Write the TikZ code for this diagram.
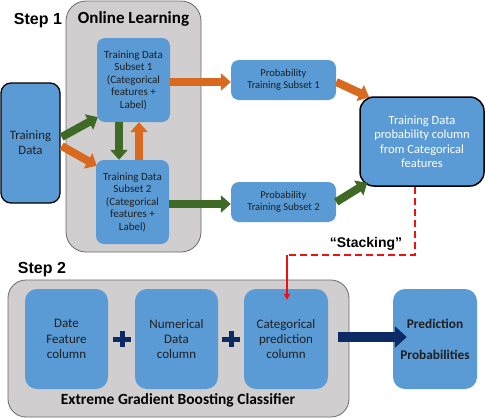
\documentclass[tikz,border=0pt]{standalone}
\usepackage{fontspec}
\setmainfont{Carlito}
\newfontfamily\arialfont{Liberation Sans}
\usepackage{xcolor}
\usepackage{tikz}
\usetikzlibrary{arrows.meta}
\definecolor{BoxBlue}{HTML}{5B9BD5}
\definecolor{PanelGrey}{HTML}{D0CECE}
\definecolor{PanelEdge}{HTML}{6A6A6A}
\definecolor{ArrOrange}{HTML}{D9691F}
\definecolor{ArrGreen}{HTML}{3F6A26}
\definecolor{ArrNavy}{HTML}{0C2A64}
\definecolor{StackRed}{HTML}{F01010}

\begin{document}
\begin{tikzpicture}[
x=1pt, y=-1pt,
BlueBox/.style={fill=BoxBlue,rounded corners=8pt,inner sep=0pt,align=center,text=black!88},
Panel/.style={fill=PanelGrey,draw=PanelEdge,line width=0.8pt,rounded corners=20pt,inner sep=0pt},
OrangeArrow/.style={draw=ArrOrange,line width=8pt,-{Triangle[length=10pt,width=17pt]}},
GreenArrow/.style={draw=ArrGreen,line width=8pt,-{Triangle[length=10pt,width=17pt]}},
NavyArrow/.style={draw=ArrNavy,line width=10pt,-{Triangle[length=12pt,width=21pt]}},
StepLabel/.style={font=\arialfont\bfseries\fontsize{16}{18}\selectfont},
every node/.style={scale=1}
]
\useasboundingbox (0,0) rectangle (485,418);

% Step 1
\node[Panel,minimum width=135pt,minimum height=251pt] (OL) at (133.5,126.5) {};
\node[font=\bfseries\fontsize{17}{19}\selectfont] (OLtitle) at (133.5,19) {Online Learning};
\node[StepLabel] (Step1) at (38,21) {Step 1};

\node[BlueBox,draw=black,line width=1.3pt,rounded corners=10pt,minimum width=59pt,minimum height=120pt,
  font=\fontsize{12.8}{15}\selectfont] (TD) at (30.5,143) {Training\\Data};
\node[BlueBox,minimum width=73pt,minimum height=84pt,font=\fontsize{11}{12.5}\selectfont]
  (Sub1) at (133.5,80) {Training Data\\Subset 1\\(Categorical\\features +\\Label)};
\node[BlueBox,minimum width=73pt,minimum height=84pt,font=\fontsize{11}{12.5}\selectfont]
  (Sub2) at (132.5,202) {Training Data\\Subset 2\\(Categorical\\features +\\Label)};
\node[BlueBox,minimum width=105pt,minimum height=40pt,font=\fontsize{10.5}{12.5}\selectfont]
  (Prob1) at (283.5,80) {Probability\\Training Subset 1};
\node[BlueBox,minimum width=105pt,minimum height=40pt,font=\fontsize{10.5}{12.5}\selectfont]
  (Prob2) at (283.5,202) {Probability\\Training Subset 2};
\node[BlueBox,draw=black,line width=1.5pt,rounded corners=14pt,minimum width=124pt,minimum height=89pt,
  text=white,font=\fontsize{12.5}{14.5}\selectfont]
  (Big) at (422,141.5) {Training Data\\probability column\\from Categorical\\features};

\draw[GreenArrow] ([shift={(1,-6)}]TD.east) -- ([shift={(1,-5)}]Sub1.south west);
\draw[OrangeArrow] ([shift={(1,3)}]TD.east) -- ([shift={(1,6)}]Sub2.north west);
\draw[GreenArrow] ([shift={(-14.5,0)}]Sub1.south) -- ([shift={(-13.5,0)}]Sub2.north);
\draw[OrangeArrow] ([shift={(6.5,0)}]Sub2.north) -- ([shift={(5.5,0)}]Sub1.south);
\draw[OrangeArrow] ([shift={(0,2)}]Sub1.east) -- ([shift={(0,2)}]Prob1.west);
\draw[GreenArrow] ([shift={(0,2)}]Sub2.east) -- ([shift={(0,2)}]Prob2.west);
\draw[OrangeArrow] ([shift={(0,2)}]Prob1.east) -- ([shift={(10,1)}]Big.north west);
\draw[GreenArrow] (Prob2.east) -- ([shift={(8,-4)}]Big.south west);

% Step 2
\node[StepLabel] (Step2) at (42,270) {Step 2};
\node[Panel,rounded corners=18pt,minimum width=341pt,minimum height=137pt] (XGB) at (178.5,348.5) {};
\node[font=\bfseries\fontsize{15.5}{17}\selectfont] (XGBtitle) at (178,400) {Extreme Gradient Boosting Classifier};

\node[BlueBox,rounded corners=12pt,minimum width=83pt,minimum height=100pt,font=\fontsize{13}{15.3}\selectfont]
  (Date) at (66.5,339) {Date\\Feature\\column};
\node[BlueBox,rounded corners=12pt,minimum width=83pt,minimum height=100pt,font=\fontsize{13}{15.3}\selectfont]
  (Num) at (176.5,339) {Numerical\\Data\\column};
\node[BlueBox,rounded corners=12pt,minimum width=84pt,minimum height=100pt,font=\fontsize{13}{15.3}\selectfont]
  (Cat) at (286,339) {Categorical\\prediction\\column};
\node[BlueBox,rounded corners=12pt,minimum width=84pt,minimum height=100pt,font=\bfseries\fontsize{13.3}{15.5}\selectfont]
  (Pred) at (435,339) {Prediction\\[15.5pt]Probabilities};

\foreach \px in {122,231} {
  \fill[ArrNavy] (\px-9,336.5) rectangle ++(18,5);
  \fill[ArrNavy] (\px-2.5,331) rectangle ++(5,16);
}

\draw[NavyArrow] ([shift={(10,-2)}]Cat.east) -- ([shift={(14,-2)}]Pred.west);

% stacking link
\node[font=\arialfont\bfseries\fontsize{14}{16}\selectfont] (Stk) at (366,244) {“Stacking”};
\coordinate (Turn) at (287,255);
\draw[StackRed,line width=2.2pt,dash pattern=on 7pt off 4pt] ([shift={(-7,0)}]Big.south) |- (Turn);
\draw[StackRed,line width=1.6pt,-{Triangle[length=6pt,width=6pt]}] (Turn) -- ([shift={(1,11)}]Cat.north);

\end{tikzpicture}
\end{document}
